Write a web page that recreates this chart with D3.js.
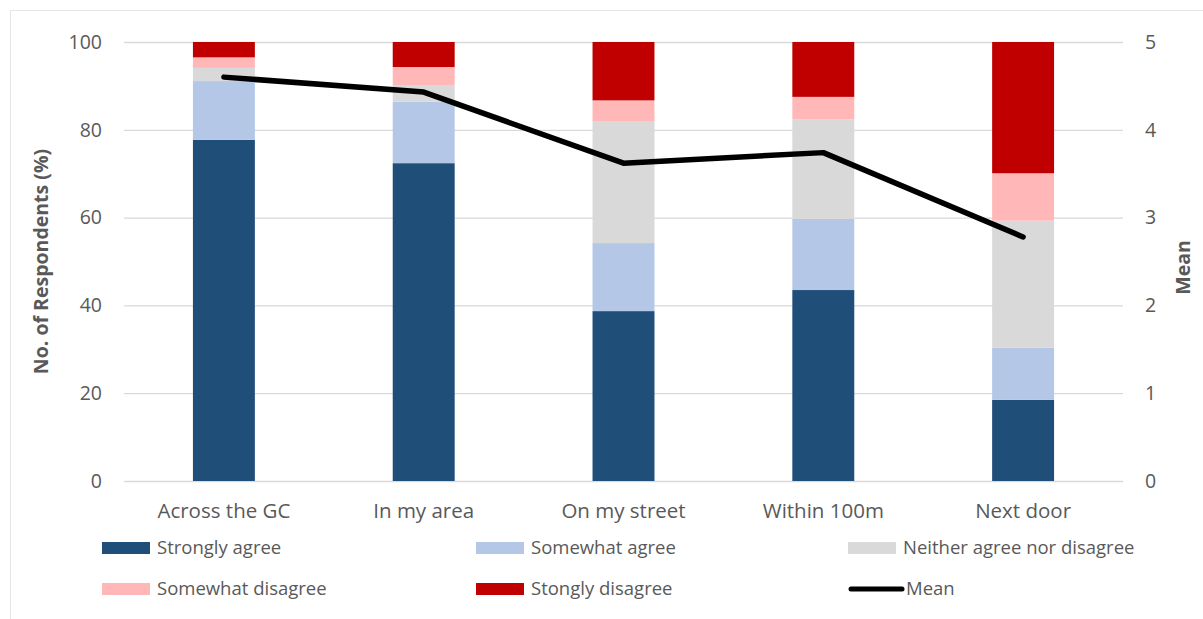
<!DOCTYPE html>
<html>
<head>
<meta charset="utf-8">
<script src="https://cdn.jsdelivr.net/npm/d3@7"></script>
<style>
  body { margin: 0; background: #fff; }
  text { font-family: "Open Sans", Lato, sans-serif; fill: #595959; }
</style>
</head>
<body>
<div id="chart"></div>
<script>
// categories and series (% of respondents)
var categories = ["Across the GC", "In my area", "On my street", "Within 100m", "Next door"];
var seriesNames = ["Strongly agree", "Somewhat agree", "Neither agree nor disagree", "Somewhat disagree", "Stongly disagree"];
var stronglyAgree   = [77.7, 72.4, 38.7, 43.5, 18.5];
var somewhatAgree   = [13.4, 14.0, 15.5, 16.2, 11.9];
var neither         = [3.0, 3.8, 27.8, 22.7, 28.9];
var somewhatDisagree= [2.4, 4.1, 4.7, 5.1, 10.8];
var stronglyDisagree= [3.5, 5.7, 13.3, 12.5, 29.9];
var meanValues      = [4.60, 4.43, 3.62, 3.74, 2.78];
var leftTicks  = [0, 20, 40, 60, 80, 100];
var rightTicks = [0, 1, 2, 3, 4, 5];
var colors = ["#1f4e79", "#b4c7e7", "#d9d9d9", "#ffb7b7", "#c00000"];

var width = 1203, height = 619;
var margin = {top: 42, right: 80, bottom: 138, left: 124};
var w = width - margin.left - margin.right,
    h = height - margin.top - margin.bottom;

var svg = d3.select("#chart").append("svg")
    .attr("width", width)
    .attr("height", height);

// outer chart border
svg.append("rect")
    .attr("x", 10.5).attr("y", 10.5)
    .attr("width", 1200).attr("height", 620)
    .attr("fill", "none")
    .attr("stroke", "#e6e6e6");

var g = svg.append("g")
    .attr("transform", "translate(" + margin.left + "," + margin.top + ")");

var x = d3.scaleBand().domain(categories).range([0, w]).paddingInner(0.69).paddingOuter(0.345);
var y = d3.scaleLinear().domain([0, 100]).range([h, 0]);
var y2 = d3.scaleLinear().domain([0, 5]).range([h, 0]);

// gridlines
g.selectAll(".grid").data(leftTicks).enter().append("line")
    .attr("x1", 0).attr("x2", w)
    .attr("y1", function(d){ return y(d) + 0.5; })
    .attr("y2", function(d){ return y(d) + 0.5; })
    .attr("stroke", "#d9d9d9")
    .attr("stroke-width", 1.3);

// Left axis
var yAxis = d3.axisLeft(y).tickValues(leftTicks).tickSize(0).tickPadding(22);
g.append("g").call(yAxis)
    .call(function(a){ a.select(".domain").remove(); })
    .selectAll("text").style("font-size", "19.5px").attr("fill", "#595959");

// Right axis
var yAxis2 = d3.axisRight(y2).tickValues(rightTicks).tickFormat(d3.format("d")).tickSize(0).tickPadding(22);
g.append("g").attr("transform", "translate(" + w + ",0)").call(yAxis2)
    .call(function(a){ a.select(".domain").remove(); })
    .selectAll("text").style("font-size", "19.5px").attr("fill", "#595959");

// stack the series
var table = categories.map(function(c, i){
    return {cat: c, s0: stronglyAgree[i], s1: somewhatAgree[i], s2: neither[i], s3: somewhatDisagree[i], s4: stronglyDisagree[i]};
});
var stack = d3.stack().keys(["s0", "s1", "s2", "s3", "s4"]);
var layers = stack(table);

g.selectAll(".layer").data(layers).enter().append("g")
    .attr("fill", function(d, i){ return colors[i]; })
  .selectAll("rect").data(function(d){ return d; }).enter().append("rect")
    .attr("x", function(d){ return x(d.data.cat); })
    .attr("y", function(d){ return y(d[1]); })
    .attr("height", function(d){ return y(d[0]) - y(d[1]); })
    .attr("width", x.bandwidth());

// Bottom axis labels
var xAxis = d3.axisBottom(x).tickSize(0).tickPadding(22);
g.append("g").attr("transform", "translate(0," + h + ")").call(xAxis)
    .call(function(a){ a.select(".domain").remove(); })
    .selectAll("text").style("font-size", "20.5px").attr("fill", "#595959");

// mean line
var meanLine = d3.line()
    .x(function(d, i){ return x(categories[i]) + x.bandwidth() / 2; })
    .y(function(d){ return y2(d); });
g.append("path")
    .attr("d", meanLine(meanValues))
    .attr("fill", "none")
    .attr("stroke", "#000")
    .attr("stroke-width", 5.5)
    .attr("stroke-linecap", "round")
    .attr("stroke-linejoin", "round");

// axis titles
svg.append("text")
    .attr("transform", "translate(48," + (margin.top + h / 2) + ") rotate(-90)")
    .attr("text-anchor", "middle")
    .style("font-size", "19.5px")
    .style("font-weight", "bold")
    .text("No. of Respondents (%)");
svg.append("text")
    .attr("transform", "translate(1190," + (margin.top + h / 2 + 6) + ") rotate(-90)")
    .attr("text-anchor", "middle")
    .style("font-size", "19.5px")
    .style("font-weight", "bold")
    .text("Mean");

// legend
var legendItems = seriesNames.concat(["Mean"]);
var legendX = [102, 476, 848];
var legendY = [548, 589];
var legend = svg.selectAll(".legend").data(legendItems).enter().append("g")
    .attr("transform", function(d, i){ return "translate(" + legendX[i % 3] + "," + legendY[Math.floor(i / 3)] + ")"; });
legend.each(function(d, i){
    var el = d3.select(this);
    if (i < 5) {
        el.append("rect").attr("x", 0).attr("y", -6).attr("width", 48).attr("height", 12).attr("fill", colors[i]);
    } else {
        el.append("line").attr("x1", 3).attr("x2", 54).attr("y1", 0).attr("y2", 0)
            .attr("stroke", "#000").attr("stroke-width", 5).attr("stroke-linecap", "round");
    }
    el.append("text").attr("x", i < 5 ? 55 : 58).attr("y", 0).attr("dy", "0.35em")
        .style("font-size", "18.5px").text(d);
});
</script>
</body>
</html>
